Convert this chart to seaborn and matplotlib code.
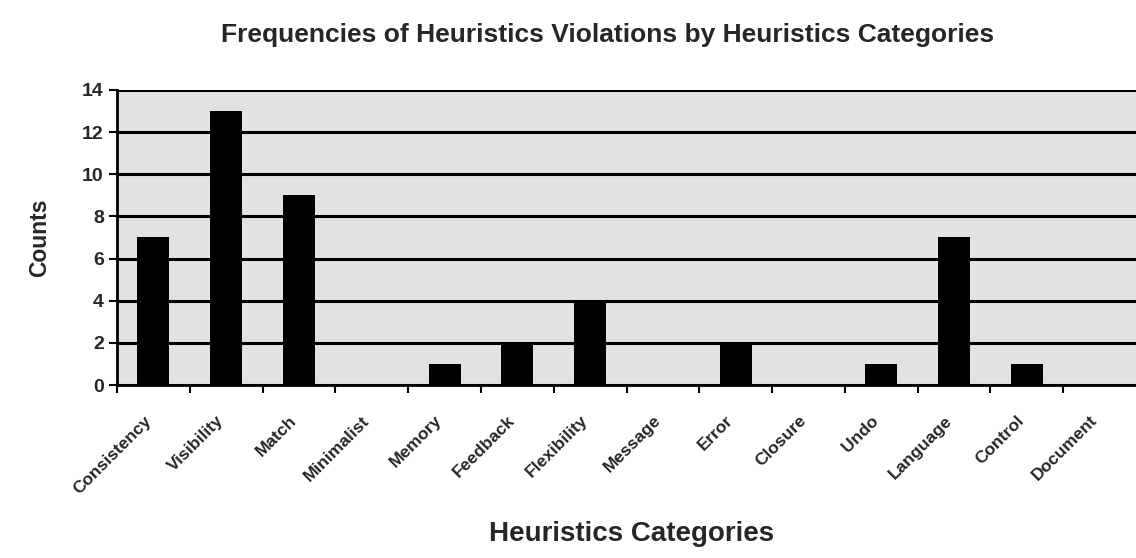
import matplotlib
matplotlib.use("Agg")
import matplotlib.pyplot as plt
import matplotlib.transforms as mtransforms
import seaborn as sns
import numpy as np
import pandas as pd

categories = ["Consistency", "Visibility", "Match", "Minimalist", "Memory", "Feedback",
              "Flexibility", "Message", "Error", "Closure", "Undo", "Language",
              "Control", "Document"]
counts = [7, 13, 9, 0, 1, 2, 4, 0, 2, 0, 1, 7, 1, 0]

df = pd.DataFrame({"category": categories, "count": counts})

sns.set_theme(style="white")
plt.rcParams["font.family"] = ["Liberation Sans", "DejaVu Sans"]

fig = plt.figure(figsize=(11.36, 5.58), dpi=100)
ax = fig.add_axes([0.103, 0.31, 0.897, 0.529])
ax.set_facecolor("#e2e2e2")

sns.barplot(data=df, x="category", y="count", color="black", width=0.44,
            saturation=1, edgecolor="black", linewidth=0, ax=ax, zorder=3)

ax.set_ylim(0, 14)
ax.set_xlim(-0.5, len(categories) - 0.5)
ax.set_yticks(np.arange(0, 15, 2))
ax.yaxis.grid(True, color="black", linewidth=2.2, zorder=1)
ax.set_axisbelow(True)

# tick marks between categories, labels at centers
ax.set_xticks(np.arange(len(categories)))
ax.set_xticks(np.arange(len(categories)) - 0.5, minor=True)
ax.tick_params(axis="x", which="major", length=0, pad=20)
ax.tick_params(axis="x", which="minor", length=6, width=1.5, color="black", bottom=True)
ax.tick_params(axis="y", length=6, width=1.5, color="black", left=True, labelsize=14)
ax.set_xticklabels(categories, rotation=45, ha="right", rotation_mode="anchor",
                   fontsize=12.5, fontweight="bold")
shift = mtransforms.ScaledTranslation(-10 / 100, 0, fig.dpi_scale_trans)
for lab in ax.get_xticklabels():
    lab.set_transform(lab.get_transform() + shift)
for lab in ax.get_yticklabels():
    lab.set_fontweight("bold")

for s in ["top", "right"]:
    ax.spines[s].set_visible(False)
for s in ["left", "bottom"]:
    ax.spines[s].set_color("black")
    ax.spines[s].set_linewidth(2)

ax.set_ylabel("Counts", fontsize=16.5, fontweight="bold", labelpad=22)
ax.set_xlabel("")
fig.text(0.556, 0.03, "Heuristics Categories", ha="center", fontsize=20, fontweight="bold")
fig.text(0.535, 0.925, "Frequencies of Heuristics Violations by Heuristics Categories",
         ha="center", fontsize=19, fontweight="bold")

plt.savefig("out.png", dpi=100)
